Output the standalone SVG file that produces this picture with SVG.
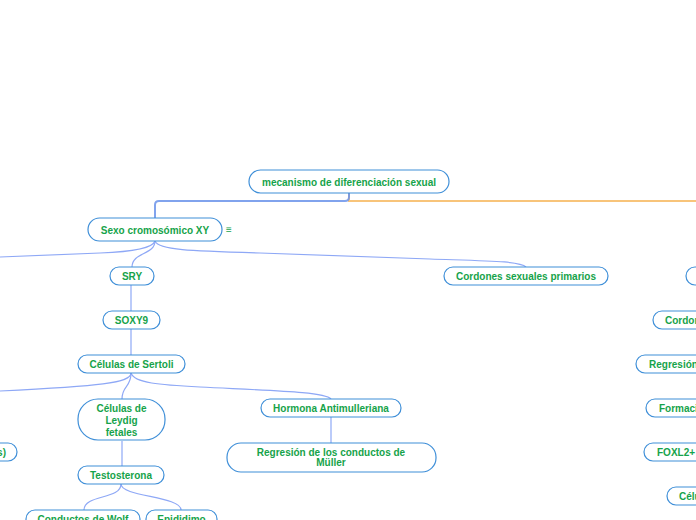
<svg xmlns="http://www.w3.org/2000/svg" width="696" height="520" viewBox="0 0 696 520">
<style>
.n rect{fill:#fff;stroke:#3f8fd8;stroke-width:1.2}
.n text{font-family:"Liberation Sans",Arial,sans-serif;font-size:10px;font-weight:bold;fill:#16a34a;text-anchor:middle}
.c{fill:none;stroke:#8ea8f6;stroke-width:1.2}
</style>
<rect width="696" height="520" fill="#fff"/>
<g id="connectors">
<path d="M349,193 V201 H696" fill="none" stroke="#f8c47a" stroke-width="2"/>
<path d="M349,193 V197 Q349,201 345,201 H159 Q155,201 155,205 V218" fill="none" stroke="#6b93ea" stroke-width="2" stroke-opacity="0.85"/>
<path class="c" d="M155,241 Q152,251 100,253 T0,257"/>
<path class="c" d="M155,241 C155,255 132,252 132,267"/>
<path class="c" d="M155,241 C158,250 190,251 260,253 L430,259 C490,261 520,261 526,267"/>
<path class="c" d="M131,285 V311"/>
<path class="c" d="M131,329 V355"/>
<path class="c" d="M131,373 C131,383 100,386 0,391"/>
<path class="c" d="M131,373 C131,388 122,385 122,399"/>
<path class="c" d="M131,373 C134,383 160,385 200,387 C280,391 325,392 331,399"/>
<path class="c" d="M122,441 V466"/>
<path class="c" d="M331,417 V443"/>
<path class="c" d="M121,484 C121,500 84,494 84,510"/>
<path class="c" d="M121,484 C121,497 181,496 181,510"/>
</g>
<g id="root" class="n"><rect x="249" y="170" width="200" height="23" rx="11.5"/><text x="349" y="186">mecanismo de diferenciación sexual</text></g>
<g id="sexo" class="n"><rect x="88" y="218" width="134" height="23" rx="11.5"/><text x="155" y="233.5">Sexo cromosómico XY</text></g>
<text x="229" y="233" font-family="Liberation Sans,Arial,sans-serif" font-size="10" fill="#16a34a" text-anchor="middle">≡</text>
<g id="sry" class="n"><rect x="110" y="267" width="44" height="18" rx="9"/><text x="132" y="279.5">SRY</text></g>
<g id="soxy9" class="n"><rect x="103" y="311" width="57" height="18" rx="9"/><text x="131.5" y="323.5">SOXY9</text></g>
<g id="sertoli" class="n"><rect x="78" y="355" width="107" height="18" rx="9"/><text x="131.5" y="367.5">Células de Sertoli</text></g>
<g id="leydig" class="n"><rect x="78" y="399" width="87" height="41" rx="20"/><text x="121.5" y="412">Células de</text><text x="121.5" y="424">Leydig</text><text x="121.5" y="436">fetales</text></g>
<g id="hormona" class="n"><rect x="261" y="399" width="140" height="18" rx="9"/><text x="331" y="411.5">Hormona Antimulleriana</text></g>
<g id="regresion-muller" class="n"><rect x="227" y="443" width="209" height="29" rx="14"/><text x="331" y="456">Regresión de los conductos de</text><text x="331" y="466">Müller</text></g>
<g id="left-partial" class="n"><rect x="-80" y="443" width="97" height="18" rx="9"/><text x="6" y="455.5" style="text-anchor:end">s)</text></g>
<g id="testosterona" class="n"><rect x="78" y="466" width="86" height="18" rx="9"/><text x="121" y="478.5">Testosterona</text></g>
<g id="wolf" class="n"><rect x="26" y="510" width="114" height="18" rx="9"/><text x="83" y="522.5">Conductos de Wolf</text></g>
<g id="epididimo" class="n"><rect x="146" y="510" width="71" height="18" rx="9"/><text x="181.5" y="522.5">Epididimo</text></g>
<g id="cordones" class="n"><rect x="444" y="267" width="164" height="18" rx="9"/><text x="526" y="279.5">Cordones sexuales primarios</text></g>
<g id="right-top" class="n"><rect x="686" y="267" width="60" height="18" rx="9"/></g>
<g id="right-cordon" class="n"><rect x="653" y="311" width="80" height="18" rx="9"/><text x="665" y="323.5" style="text-anchor:start">Cordon</text></g>
<g id="right-regresion" class="n"><rect x="636" y="355" width="90" height="18" rx="9"/><text x="649" y="367.5" style="text-anchor:start">Regresión</text></g>
<g id="right-formacion" class="n"><rect x="646" y="399" width="80" height="18" rx="9"/><text x="659" y="411.5" style="text-anchor:start">Formaci</text></g>
<g id="right-foxl2" class="n"><rect x="644" y="443" width="80" height="18" rx="9"/><text x="657" y="455.5" style="text-anchor:start">FOXL2+</text></g>
<g id="right-celulas" class="n"><rect x="667" y="487" width="60" height="18" rx="9"/><text x="679" y="499.5" style="text-anchor:start">Célu</text></g>
</svg>
